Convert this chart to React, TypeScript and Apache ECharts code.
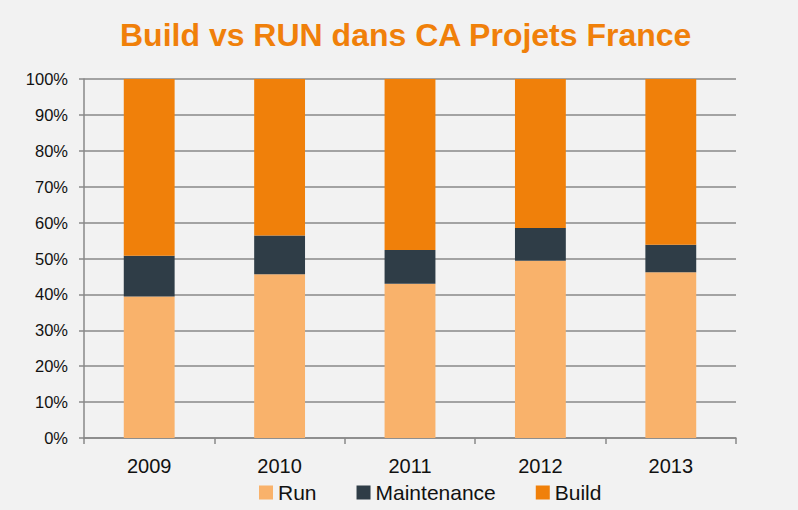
import React, { useEffect, useRef } from "react";
import * as echarts from "echarts";

const categories = ["2009", "2010", "2011", "2012", "2013"];
const runValues = [39.4, 45.6, 43.0, 49.4, 46.2];
const maintenanceValues = [11.4, 10.8, 9.4, 9.1, 7.6];
const buildValues = [49.2, 43.6, 47.6, 41.5, 46.2];
const titleText = "Build vs RUN dans CA Projets France";

const FONT = "'Liberation Sans', Arial, sans-serif";

export default function App() {
  const ref = useRef<HTMLDivElement>(null);
  useEffect(() => {
    const chart = echarts.init(ref.current!, undefined, { renderer: "svg" });
    chart.setOption({
      animation: false,
      backgroundColor: "#f2f2f2",
      title: {
        text: titleText,
        left: 115,
        top: 14,
        textStyle: { color: "#f0800a", fontSize: 32, fontWeight: "bold", fontFamily: FONT },
      },
      legend: {
        top: 477,
        left: 254,
        itemWidth: 14,
        itemHeight: 14,
        itemGap: 40,
        icon: "rect",
        textStyle: { fontSize: 21, color: "#111", fontFamily: FONT },
        data: ["Run", "Maintenance", "Build"],
      },
      grid: { left: 84, right: 62, top: 79, bottom: 72 },
      xAxis: {
        type: "category",
        data: categories,
        axisLine: { lineStyle: { color: "#888", width: 1.5 } },
        axisTick: { show: true, length: 6, lineStyle: { color: "#888", width: 1.5 } },
        axisLabel: { fontSize: 20, color: "#111", margin: 18, fontFamily: FONT },
      },
      yAxis: {
        type: "value",
        min: 0,
        max: 100,
        interval: 10,
        axisLine: { show: true, lineStyle: { color: "#888", width: 1.5 } },
        axisTick: { show: true, length: 5, lineStyle: { color: "#888", width: 1.5 } },
        splitLine: { lineStyle: { color: "#888", width: 1.5 } },
        axisLabel: { fontSize: 16.5, color: "#111", margin: 16, formatter: "{value}%", fontFamily: FONT },
      },
      series: [
        { name: "Run", type: "bar", stack: "t", data: runValues, barWidth: "39%", itemStyle: { color: "#f9b26b" } },
        { name: "Maintenance", type: "bar", stack: "t", data: maintenanceValues, itemStyle: { color: "#2f3d47" } },
        { name: "Build", type: "bar", stack: "t", data: buildValues, itemStyle: { color: "#f0800a" } },
      ],
    });
    return () => chart.dispose();
  }, []);
  return <div ref={ref} style={{ width: 798, height: 510, position: "absolute", left: 0, top: 0 }} />;
}
